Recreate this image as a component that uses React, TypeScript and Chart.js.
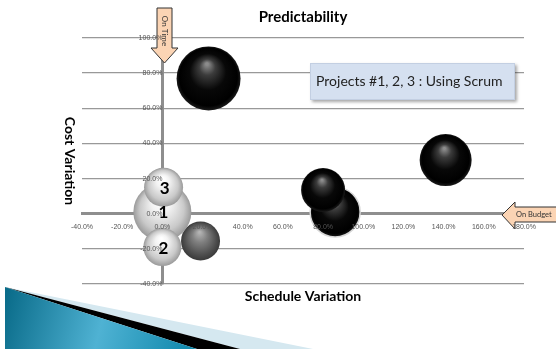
import React, { useEffect, useRef } from "react";
import { Chart, registerables } from "chart.js";

Chart.register(...registerables);

// ---- data ----
const scrumLabels = ["1", "3", "2"];
const scrumX = [0, 0.6, 0];
const scrumY = [1, 15, -19];
const scrumR = [29, 19.5, 19];

const otherX = [23, 141, 86, 80];
const otherY = [77, 30.5, 1, 13.5];
const otherR = [32, 26, 25, 22];

const grayX = [19];
const grayY = [-15.5];
const grayR = [19.5];

const xMin = -40;
const xMax = 180;
const yMin = -40;
const yMax = 100;
const tickStep = 20;

const titleText = "Predictability";
const xTitleText = "Schedule Variation";
const yTitleText = "Cost Variation";
const noteText = "Projects #1, 2, 3 : Using Scrum";
const onTimeText = "On Time";
const onBudgetText = "On Budget";

const pts = (xs: number[], ys: number[], rs: number[]) =>
  xs.map((x, i) => ({ x, y: ys[i], r: rs[i] }));

type Kind = "black" | "light" | "gray";

const sphere = (kind: Kind) => (ctx: any) => {
  const base = kind === "black" ? "#000" : kind === "light" ? "#ddd" : "#777";
  if (ctx.type !== "data") return base;
  const chart = ctx.chart;
  const raw = ctx.raw;
  const sx = chart.scales.x;
  const sy = chart.scales.y;
  if (!sx || !sy || !raw) return base;
  const cx = sx.getPixelForValue(raw.x);
  const cy = sy.getPixelForValue(raw.y);
  const r = raw.r;
  if (!isFinite(cx) || !isFinite(cy) || !isFinite(r)) return base;
  const g = chart.ctx.createRadialGradient(cx - r * 0.05, cy - r * 0.45, r * 0.04, cx, cy, r);
  if (kind === "black") {
    g.addColorStop(0, "#8c8c8c");
    g.addColorStop(0.22, "#3c3c3c");
    g.addColorStop(0.55, "#080808");
    g.addColorStop(0.9, "#000");
    g.addColorStop(1, "#1a1a1a");
  } else if (kind === "light") {
    g.addColorStop(0, "#ffffff");
    g.addColorStop(0.3, "#f3f3f3");
    g.addColorStop(0.75, "#c9c9c9");
    g.addColorStop(1, "#9a9a9a");
  } else {
    g.addColorStop(0, "#b4b4b4");
    g.addColorStop(0.35, "#808080");
    g.addColorStop(0.8, "#4e4e4e");
    g.addColorStop(1, "#3a3a3a");
  }
  return g;
};

const decorPlugin = {
  id: "decor",
  beforeDraw(chart: any) {
    const c = chart.ctx;
    c.save();
    // light blue wedge
    c.fillStyle = "#d5e8f0";
    c.beginPath();
    c.moveTo(5, 287);
    c.lineTo(313, 349);
    c.lineTo(240, 349);
    c.closePath();
    c.fill();
    // black wedge
    c.fillStyle = "#000";
    c.beginPath();
    c.moveTo(5, 287);
    c.lineTo(240, 349);
    c.lineTo(197, 349);
    c.closePath();
    c.fill();
    // blue wedge
    const g = c.createLinearGradient(5, 300, 197, 349);
    g.addColorStop(0, "#0a6c8a");
    g.addColorStop(0.5, "#4fb2d3");
    g.addColorStop(1, "#0c86aa");
    c.fillStyle = g;
    c.beginPath();
    c.moveTo(5, 287);
    c.lineTo(197, 349);
    c.lineTo(5, 349);
    c.closePath();
    c.fill();
    c.restore();
  },
  afterDatasetsDraw(chart: any) {
    const c = chart.ctx;
    const meta = chart.getDatasetMeta(0);
    c.save();
    c.font = "bold 17px Lato";
    c.fillStyle = "#000";
    c.textAlign = "center";
    c.textBaseline = "middle";
    meta.data.forEach((el: any, i: number) => {
      c.fillText(scrumLabels[i], el.x + 1, el.y + 1);
    });

    // note box
    c.save();
    c.shadowColor = "rgba(0,0,0,0.35)";
    c.shadowOffsetX = 2;
    c.shadowOffsetY = 2;
    c.shadowBlur = 3;
    c.fillStyle = "#d5e0f0";
    c.fillRect(310, 63, 205, 37);
    c.restore();
    c.strokeStyle = "#c3cfe2";
    c.lineWidth = 1;
    c.strokeRect(310.5, 63.5, 204, 36);
    c.fillStyle = "#222";
    c.font = "14px Lato";
    c.textAlign = "left";
    c.fillText(noteText, 316, 81);

    // On Time arrow (down)
    c.fillStyle = "#fbd4b4";
    c.strokeStyle = "#333";
    c.lineWidth = 1;
    c.beginPath();
    c.moveTo(157, 8);
    c.lineTo(172, 8);
    c.lineTo(172, 48);
    c.lineTo(178, 48);
    c.lineTo(164.5, 63);
    c.lineTo(151, 48);
    c.lineTo(157, 48);
    c.closePath();
    c.fill();
    c.stroke();
    c.save();
    c.translate(164.5, 31);
    c.rotate(Math.PI / 2);
    c.fillStyle = "#333";
    c.font = "8px Lato";
    c.textAlign = "center";
    c.fillText(onTimeText, 0, 0);
    c.restore();

    // On Budget arrow (left)
    c.fillStyle = "#fbd4b4";
    c.strokeStyle = "#333";
    c.beginPath();
    c.moveTo(502, 215);
    c.lineTo(515, 202);
    c.lineTo(515, 207);
    c.lineTo(560, 207);
    c.lineTo(560, 222);
    c.lineTo(515, 222);
    c.lineTo(515, 229);
    c.closePath();
    c.fill();
    c.stroke();
    c.fillStyle = "#333";
    c.font = "7.5px Lato";
    c.textAlign = "left";
    c.fillText(onBudgetText, 516, 215);
    c.restore();
  },
  afterDraw(chart: any) {
    const c = chart.ctx;
    const area = chart.chartArea;
    const midX = (area.left + area.right) / 2;
    c.save();
    c.fillStyle = "#000";
    c.textAlign = "center";
    c.textBaseline = "middle";
    c.font = "bold 15px Lato";
    c.fillText(titleText, midX, 17);
    c.font = "bold 14px Lato";
    c.fillText(xTitleText, midX, 296);
    c.translate(70, 161);
    c.rotate(Math.PI / 2);
    c.fillText(yTitleText, 0, 0);
    c.restore();
  },
};

export default function App() {
  const ref = useRef<HTMLCanvasElement | null>(null);
  useEffect(() => {
    if (!ref.current) return;
    const fmt = (v: any) => Number(v).toFixed(1) + "%";
    const tickFont = { family: "Liberation Sans", size: 7 };
    const chart = new Chart(ref.current, {
      type: "bubble",
      data: {
        datasets: [
          {
            label: "Scrum projects",
            data: pts(scrumX, scrumY, scrumR),
            backgroundColor: sphere("light"),
            borderWidth: 0,
            order: 1,
          },
          {
            label: "Other projects",
            data: pts(otherX, otherY, otherR),
            backgroundColor: sphere("black"),
            borderColor: ["rgba(0,0,0,0)", "rgba(0,0,0,0)", "#d8d8d8", "rgba(0,0,0,0)"],
            borderWidth: [0, 0, 1.5, 0],
            order: 2,
          },
          {
            label: "Project",
            data: pts(grayX, grayY, grayR),
            backgroundColor: sphere("gray"),
            borderWidth: 0,
            order: 3,
          },
        ],
      },
      options: {
        responsive: false,
        animation: false,
        events: [],
        layout: { padding: { left: 82, right: 19, top: 38, bottom: 65 } },
        plugins: {
          legend: { display: false },
          tooltip: { enabled: false },
          title: { display: false },
        },
        scales: {
          x: {
            type: "linear",
            min: xMin,
            max: xMax,
            position: { y: 0 } as any,
            grid: { display: false, drawTicks: false },
            border: { display: true, color: "#8e8e8e", width: 3 },
            ticks: {
              z: 1,
              stepSize: tickStep,
              autoSkip: false,
              maxRotation: 0,
              padding: 9,
              color: "#555",
              font: tickFont,
              callback: fmt,
            },
          },
          y: {
            type: "linear",
            min: yMin,
            max: yMax,
            position: { x: 0 } as any,
            grid: { color: "#999", lineWidth: 1.3, drawTicks: false },
            border: { display: true, color: "#8e8e8e", width: 3 },
            ticks: {
              z: 1,
              stepSize: tickStep,
              autoSkip: false,
              padding: 8,
              color: "#555",
              font: tickFont,
              callback: fmt,
            },
          },
        },
      },
      plugins: [decorPlugin],
    });
    return () => chart.destroy();
  }, []);
  return (
    <div style={{ position: "fixed", left: 0, top: 0, width: 556, height: 349, background: "#fff" }}>
      <canvas ref={ref} width={556} height={349} />
    </div>
  );
}
